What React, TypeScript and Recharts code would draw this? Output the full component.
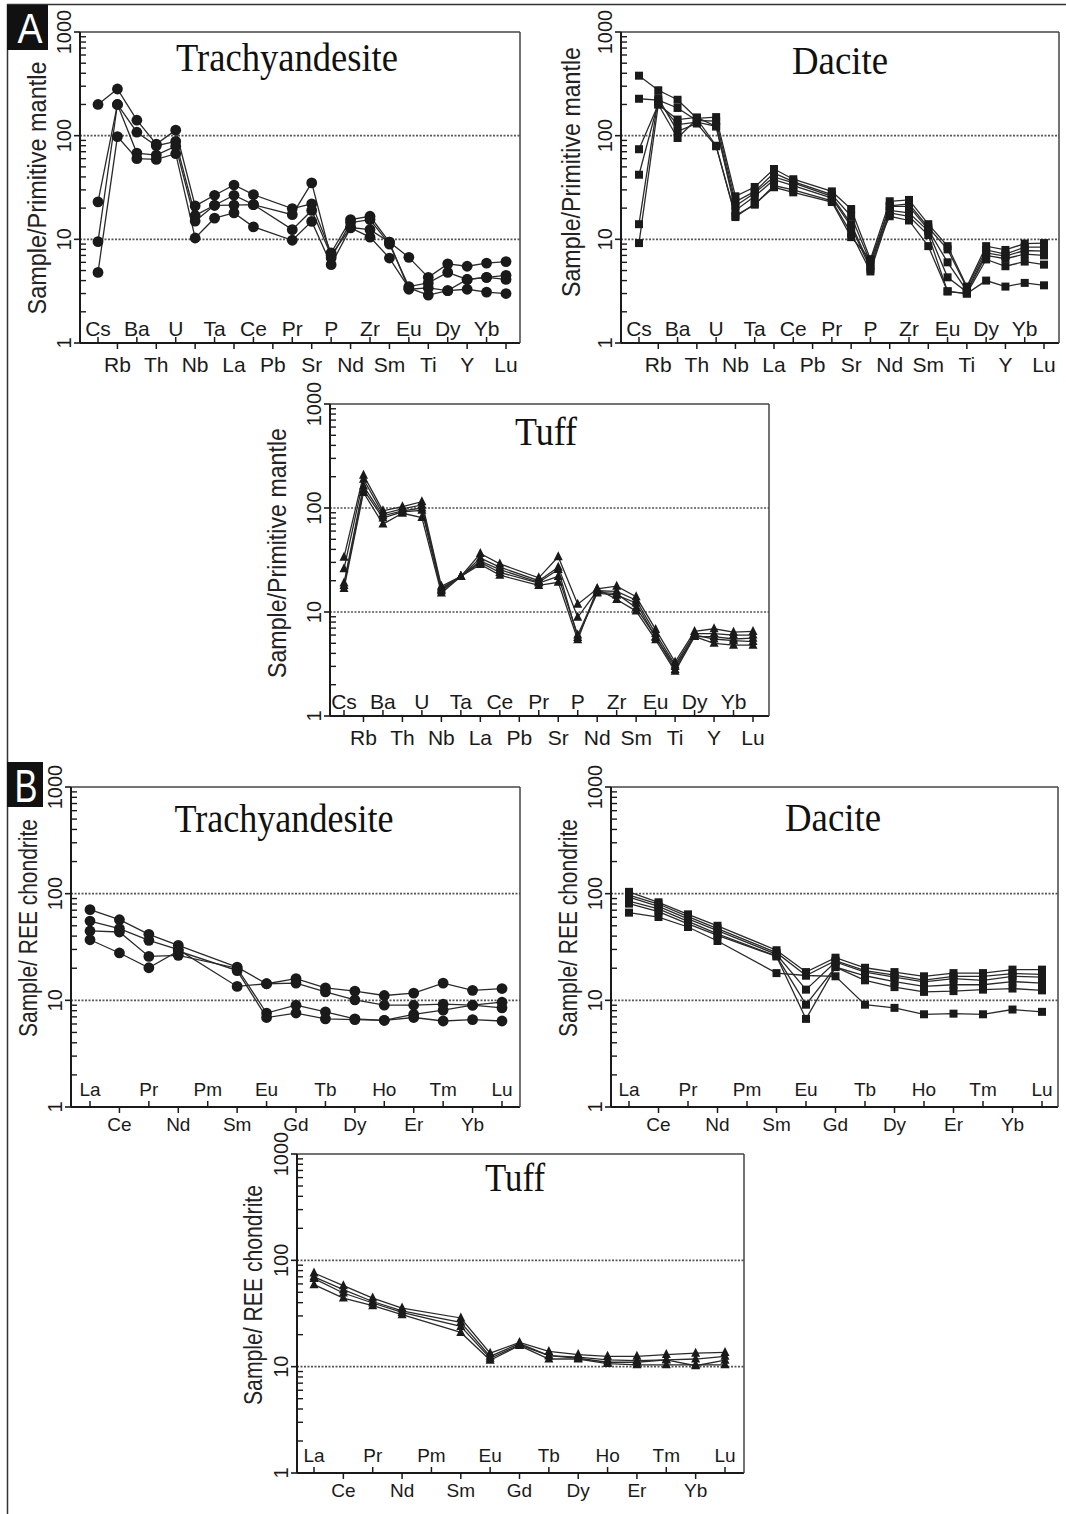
import React from "react";
import { LineChart, Line, XAxis, YAxis, ReferenceLine } from "recharts";

const PAGE_W = 1066;
const PAGE_H = 1514;
const SANS = "'Liberation Sans', Arial, Helvetica, sans-serif";
const SERIF = "'Liberation Serif', 'Times New Roman', serif";
const INK = "#1a1a1a";
const AX = 1; // thickness reserved for each axis inside the margin

// element order on the two kinds of spider diagram
const pmElements = ["Cs", "Rb", "Ba", "Th", "U", "Nb", "Ta", "La", "Ce", "Pb", "Pr", "Sr", "P", "Nd", "Zr", "Sm", "Eu", "Ti", "Dy", "Y", "Yb", "Lu"];
const reeElements = ["La", "Ce", "Pr", "Nd", "Pm", "Sm", "Eu", "Gd", "Tb", "Dy", "Ho", "Er", "Tm", "Yb", "Lu"];

// log axis: labelled decades plus unlabelled minor marks
const decadeTicks = [1, 10, 100, 1000];
const minorTicks = [2, 3, 4, 5, 6, 7, 8, 9, 20, 30, 40, 50, 60, 70, 80, 90, 200, 300, 400, 500, 600, 700, 800, 900];

// A: sample / primitive mantle (Pb not analysed -> null)
const trachyPm = [
  [200, 282, 141, 83, 113, 21, 26.6, 33.4, 27, null, 19.8, 22, 7.4, 15.5, 16.7, 9.4, 6.7, 4.3, 5.8, 5.5, 5.9, 6.1],
  [23, 200, 108, 80, 88, 17, 21.3, 26.6, 21.6, null, 17.3, 35, 6.6, 14.5, 15.5, 9, 3.5, 3.8, 4.8, 4.1, 4.3, 4.5],
  [9.5, 200, 68, 65, 79, 15, 21.3, 21.4, 21.6, null, 12.4, 19, 7, 13, 12.4, 9.4, 3.3, 3.4, 3.2, 4.1, 4.3, 4.1],
  [4.8, 98, 60, 59, 67, 10.3, 16, 18, 13.2, null, 9.8, 14.9, 5.7, 12.9, 10.5, 6.6, 3.4, 2.9, 3.2, 3.3, 3.1, 3.0],
];

const dacitePm = [
  [379, 274, 222, 147, 151, 26, 32, 47.7, 38, null, 29, 19.6, 6.4, 23.3, 24, 14, 8.6, 3.5, 8.6, 7.9, 9.1, 9.2],
  [227, 220, 185, 140, 138, 23, 29, 43.6, 36, null, 27, 16.7, 6, 21, 22, 13, 8, 3.4, 7.9, 7.2, 8.4, 8.4],
  [74, 200, 143, 150, 123, 21, 28, 40, 35, null, 26, 14, 5.5, 20.8, 20.8, 12.4, 6, 3.2, 7.4, 6.9, 7.8, 7.7],
  [42, 210, 128, 135, 123, 19, 26, 37.6, 33, null, 25, 13.3, 5.2, 19, 18, 12, 4.3, 3.1, 7, 6.5, 7.2, 7],
  [14, 230, 110, 131, 79, 17, 21.6, 33, 30, null, 23.5, 11.5, 4.9, 18, 16.7, 11, 3.15, 3.0, 6.4, 5.5, 6.1, 5.7],
  [9.2, 200, 95, 145, 80, 16.4, 22, 31.8, 28.4, null, 22.9, 10.5, 6.4, 16.7, 15.2, 8.6, 3.15, 3.0, 4.0, 3.5, 3.8, 3.6],
];

const tuffPm = [
  [33.7, 207, 94, 103, 115, 17.7, 22, 36.5, 29, null, 21.3, 34, 11.9, 16.7, 17.7, 14, 6.8, 3.3, 6.5, 6.9, 6.4, 6.5],
  [26, 189, 88, 98, 107, 17, 22, 33, 27, null, 20, 27, 8.9, 16, 15.8, 13, 6.2, 3.1, 6.2, 6.2, 6, 6],
  [19, 163, 84, 94, 100, 16.4, 22, 31, 25.6, null, 19.3, 25.6, 5.7, 15.2, 14.5, 12.2, 5.7, 3.0, 5.8, 5.8, 5.5, 5.6],
  [16.8, 141, 70, 89, 81, 15.2, 22, 28.6, 22.6, null, 18, 19.3, 5.4, 16.7, 13.2, 10.2, 5.4, 2.7, 5.8, 5.0, 4.8, 4.8],
  [18, 150, 80, 92, 95, 16, 22, 30, 24, null, 19, 22, 6, 15.5, 15, 11, 5.8, 2.8, 6, 5.5, 5.3, 5.2],
];

// B: sample / chondrite (Pm not analysed -> null)
const trachyRee = [
  [70.8, 57, 41.6, 32.8, null, 20.5, 14.3, 16, 13.1, 12.2, 11.1, 11.7, 14.5, 12.4, 12.9],
  [55.4, 47, 36.5, 29.9, null, 13.5, 14.3, 14.5, 12, 10.1, 9, 9, 9.2, 9, 9.6],
  [44.7, 43.7, 25.8, 26.4, null, 20, 7.6, 9, 7.8, 6.7, 6.5, 7.4, 8.1, 9, 8.5],
  [37, 27.8, 20.2, 29, null, 19, 6.9, 7.6, 6.7, 6.6, 6.5, 6.9, 6.4, 6.6, 6.4],
];

const daciteRee = [
  [104, 83, 64, 50, null, 29.5, 18.4, 25.1, 20.2, 18.4, 16.8, 18, 18, 19.4, 19.4],
  [97, 80, 61, 47, null, 28, 17.1, 23.5, 19, 17.2, 15.5, 16.8, 16.8, 17.8, 17.5],
  [93, 76, 58, 45, null, 27, 12.6, 22.9, 18.4, 16.5, 14.9, 16, 15.4, 16.8, 16.5],
  [85, 72, 55, 42, null, 26, 9.1, 20.5, 17, 15, 13.5, 14, 14, 15, 14.5],
  [80.6, 68, 52, 40.7, null, 25.8, 6.7, 20.5, 15.4, 13.3, 12, 12.2, 12.6, 12.9, 12.4],
  [66.4, 60.4, 48.7, 36, null, 18, 17.1, 16.8, 9.1, 8.5, 7.4, 7.5, 7.4, 8.2, 7.8],
];

const tuffRee = [
  [76, 57.8, 44.2, 35.6, null, 28.7, 13.4, 16.9, 13.9, 13, 12.5, 12.5, 13, 13.4, 13.6],
  [70, 53, 41, 33.5, null, 26.1, 12.5, 16.5, 12.7, 12.3, 11.6, 11.4, 11.6, 11.8, 12.5],
  [67.3, 49.3, 39.7, 32.4, null, 23.9, 12, 16, 12.7, 12, 11, 11, 11.6, 10.2, 11.5],
  [59, 44.2, 37.5, 30.8, null, 21, 11.5, 15.8, 11.8, 11.8, 10.7, 10.4, 10.4, 10.4, 10.4],
];

type Marker = "circle" | "square" | "triangle";

type Panel = {
  id: string;
  cats: string[];
  series: (number | null)[][];
  marker: Marker;
  plot: { x: number; y: number; w: number; h: number };
  pad: { left: number; right: number };
  catFont: number;
  upGap: number;
  downGap: number;
  title: string;
  titleX: number;
  titleY: number;
  titleLen: number;
  yLabel: string;
  yLabelX: number;
  yLabelY: number;
  yLabelLen: number;
};

const panels: Panel[] = [
  {
    id: "a1", cats: pmElements, series: trachyPm, marker: "circle",
    plot: { x: 80, y: 32, w: 440, h: 311 }, pad: { left: 18, right: 14 },
    catFont: 21, upGap: 7, downGap: 29,
    title: "Trachyandesite", titleX: 287, titleY: 71, titleLen: 222,
    yLabel: "Sample/Primitive mantle", yLabelX: 46, yLabelY: 188, yLabelLen: 253,
  },
  {
    id: "a2", cats: pmElements, series: dacitePm, marker: "square",
    plot: { x: 621, y: 32, w: 438, h: 311 }, pad: { left: 18, right: 15 },
    catFont: 21, upGap: 7, downGap: 29,
    title: "Dacite", titleX: 840, titleY: 74, titleLen: 96,
    yLabel: "Sample/Primitive mantle", yLabelX: 580, yLabelY: 172, yLabelLen: 250,
  },
  {
    id: "a3", cats: pmElements, series: tuffPm, marker: "triangle",
    plot: { x: 330, y: 404, w: 439, h: 312 }, pad: { left: 14, right: 16 },
    catFont: 21, upGap: 7, downGap: 29,
    title: "Tuff", titleX: 546, titleY: 445, titleLen: 62,
    yLabel: "Sample/Primitive mantle", yLabelX: 286, yLabelY: 553, yLabelLen: 250,
  },
  {
    id: "b1", cats: reeElements, series: trachyRee, marker: "circle",
    plot: { x: 71, y: 787, w: 449, h: 320 }, pad: { left: 19, right: 18 },
    catFont: 19, upGap: 11, downGap: 24,
    title: "Trachyandesite", titleX: 284, titleY: 832, titleLen: 219,
    yLabel: "Sample/ REE chondrite", yLabelX: 37, yLabelY: 928, yLabelLen: 218,
  },
  {
    id: "b2", cats: reeElements, series: daciteRee, marker: "square",
    plot: { x: 611, y: 787, w: 447, h: 320 }, pad: { left: 18, right: 16 },
    catFont: 19, upGap: 11, downGap: 24,
    title: "Dacite", titleX: 833, titleY: 831, titleLen: 96,
    yLabel: "Sample/ REE chondrite", yLabelX: 577, yLabelY: 928, yLabelLen: 218,
  },
  {
    id: "b3", cats: reeElements, series: tuffRee, marker: "triangle",
    plot: { x: 297, y: 1154, w: 447, h: 319 }, pad: { left: 17, right: 19 },
    catFont: 19, upGap: 11, downGap: 24,
    title: "Tuff", titleX: 515, titleY: 1191, titleLen: 60,
    yLabel: "Sample/ REE chondrite", yLabelX: 262, yLabelY: 1295, yLabelLen: 220,
  },
];

function makeDot(kind: Marker) {
  return (props: any) => {
    const { cx, cy, index, dataKey, value } = props;
    const key = `${dataKey}-${index}`;
    if (cx == null || cy == null || value == null) return <g key={key} />;
    if (kind === "circle") return <circle key={key} cx={cx} cy={cy} r={5.4} fill={INK} />;
    if (kind === "square") return <rect key={key} x={cx - 4} y={cy - 4} width={8} height={8} fill={INK} />;
    return <polygon key={key} points={`${cx},${cy - 5.5} ${cx - 4.5},${cy + 3.5} ${cx + 4.5},${cy + 3.5}`} fill={INK} />;
  };
}

function makeXTick(p: Panel) {
  const axisY = p.plot.y + p.plot.h;
  return (props: any) => {
    const { x, payload } = props;
    const up = p.cats.indexOf(payload.value) % 2 === 0;
    return (
      <g>
        <line x1={x} x2={x} y1={axisY} y2={up ? axisY - 6 : axisY + 6} stroke={INK} strokeWidth={1.5} />
        <text x={x} y={up ? axisY - p.upGap : axisY + p.downGap} textAnchor="middle" fontFamily={SANS} fontSize={p.catFont} fill={INK}>
          {payload.value}
        </text>
      </g>
    );
  };
}

function makeYTick(p: Panel) {
  const axisX = p.plot.x;
  return (props: any) => {
    const { y, payload } = props;
    const v = payload.value;
    const lx = axisX - 9;
    return (
      <g>
        <line x1={axisX - 6} x2={axisX} y1={y} y2={y} stroke={INK} strokeWidth={1.6} />
        <text transform={`rotate(-90 ${lx} ${y})`} x={lx} y={y} textAnchor="middle" fontFamily={SANS} fontSize={20} fill={INK}>
          {v}
        </text>
      </g>
    );
  };
}

// minor marks point into the plot from the left axis
function makeMinorTick(p: Panel) {
  const axisX = p.plot.x;
  return (props: any) => {
    const { y } = props;
    return <line x1={axisX} x2={axisX + 6} y1={y} y2={y} stroke={INK} strokeWidth={1.4} />;
  };
}

function SpiderPanel({ p }: { p: Panel }) {
  const data = p.cats.map((el, i) => {
    const row: Record<string, string | number | null> = { el };
    p.series.forEach((s, k) => {
      row[`s${k}`] = s[i];
    });
    return row;
  });
  const margin = {
    top: p.plot.y - AX,
    left: p.plot.x - 2 * AX,
    right: PAGE_W - p.plot.x - p.plot.w - AX,
    bottom: PAGE_H - p.plot.y - p.plot.h - AX,
  };
  return (
    <div style={{ position: "absolute", left: 0, top: 0 }}>
      <LineChart width={PAGE_W} height={PAGE_H} data={data} margin={margin}>
        <XAxis dataKey="el" type="category" scale="point" padding={p.pad} interval={0} height={AX}
          axisLine={{ stroke: INK, strokeWidth: 2 }} tickLine={false} tick={makeXTick(p)} />
        <XAxis xAxisId="top" orientation="top" dataKey="el" type="category" height={AX}
          axisLine={{ stroke: "#444", strokeWidth: 1.5 }} tickLine={false} tick={false} />
        <YAxis type="number" scale="log" domain={[1, 1000]} ticks={decadeTicks} allowDataOverflow width={AX}
          axisLine={{ stroke: INK, strokeWidth: 2 }} tickLine={false} tick={makeYTick(p)} interval={0} />
        <YAxis yAxisId="minor" type="number" scale="log" domain={[1, 1000]} ticks={minorTicks} allowDataOverflow
          width={AX} axisLine={false} tickLine={false} interval={0} minTickGap={0} tick={makeMinorTick(p)} />
        <YAxis yAxisId="right" orientation="right" type="number" domain={[0, 1]} width={AX}
          axisLine={{ stroke: "#444", strokeWidth: 1.5 }} tickLine={false} tick={false} />
        <ReferenceLine y={10} stroke="#555" strokeWidth={1.7} strokeDasharray="2 1.5" />
        <ReferenceLine y={100} stroke="#555" strokeWidth={1.7} strokeDasharray="2 1.5" />
        {p.series.map((_, k) => (
          <Line key={k} dataKey={`s${k}`} type="linear" stroke="#2a2a2a" strokeWidth={1.3}
            dot={makeDot(p.marker)} activeDot={false} connectNulls isAnimationActive={false} />
        ))}
      </LineChart>
    </div>
  );
}

function Decorations() {
  return (
    <svg width={PAGE_W} height={PAGE_H} style={{ position: "absolute", left: 0, top: 0 }}>
      <line x1={7.5} x2={7.5} y1={4} y2={PAGE_H} stroke="#333" strokeWidth={1.5} />
      <line x1={7} x2={PAGE_W} y1={4.5} y2={4.5} stroke="#333" strokeWidth={1.5} />
      <rect x={7} y={5} width={41} height={45} fill="#111" />
      <text x={30} y={43} textAnchor="middle" fontFamily={SANS} fontSize={42} fill="#fff" textLength={25} lengthAdjust="spacingAndGlyphs">A</text>
      <rect x={7} y={762} width={36} height={45} fill="#111" />
      <text x={26} y={802} textAnchor="middle" fontFamily={SANS} fontSize={46} fill="#fff" textLength={23} lengthAdjust="spacingAndGlyphs">B</text>
      {panels.map((p) => (
        <g key={p.id}>
          <text x={p.titleX} y={p.titleY} textAnchor="middle" fontFamily={SERIF} fontSize={40} fill="#111"
            textLength={p.titleLen} lengthAdjust="spacingAndGlyphs">{p.title}</text>
          <text transform={`rotate(-90 ${p.yLabelX} ${p.yLabelY})`} x={p.yLabelX} y={p.yLabelY} textAnchor="middle"
            fontFamily={SANS} fontSize={25} fill="#222" textLength={p.yLabelLen} lengthAdjust="spacingAndGlyphs">{p.yLabel}</text>
        </g>
      ))}
    </svg>
  );
}

export default function App() {
  return (
    <div style={{ position: "relative", width: PAGE_W, height: PAGE_H, background: "#fff", overflow: "hidden" }}>
      <style>{"body{margin:0}"}</style>
      <Decorations />
      {panels.map((p) => (
        <SpiderPanel key={p.id} p={p} />
      ))}
    </div>
  );
}
